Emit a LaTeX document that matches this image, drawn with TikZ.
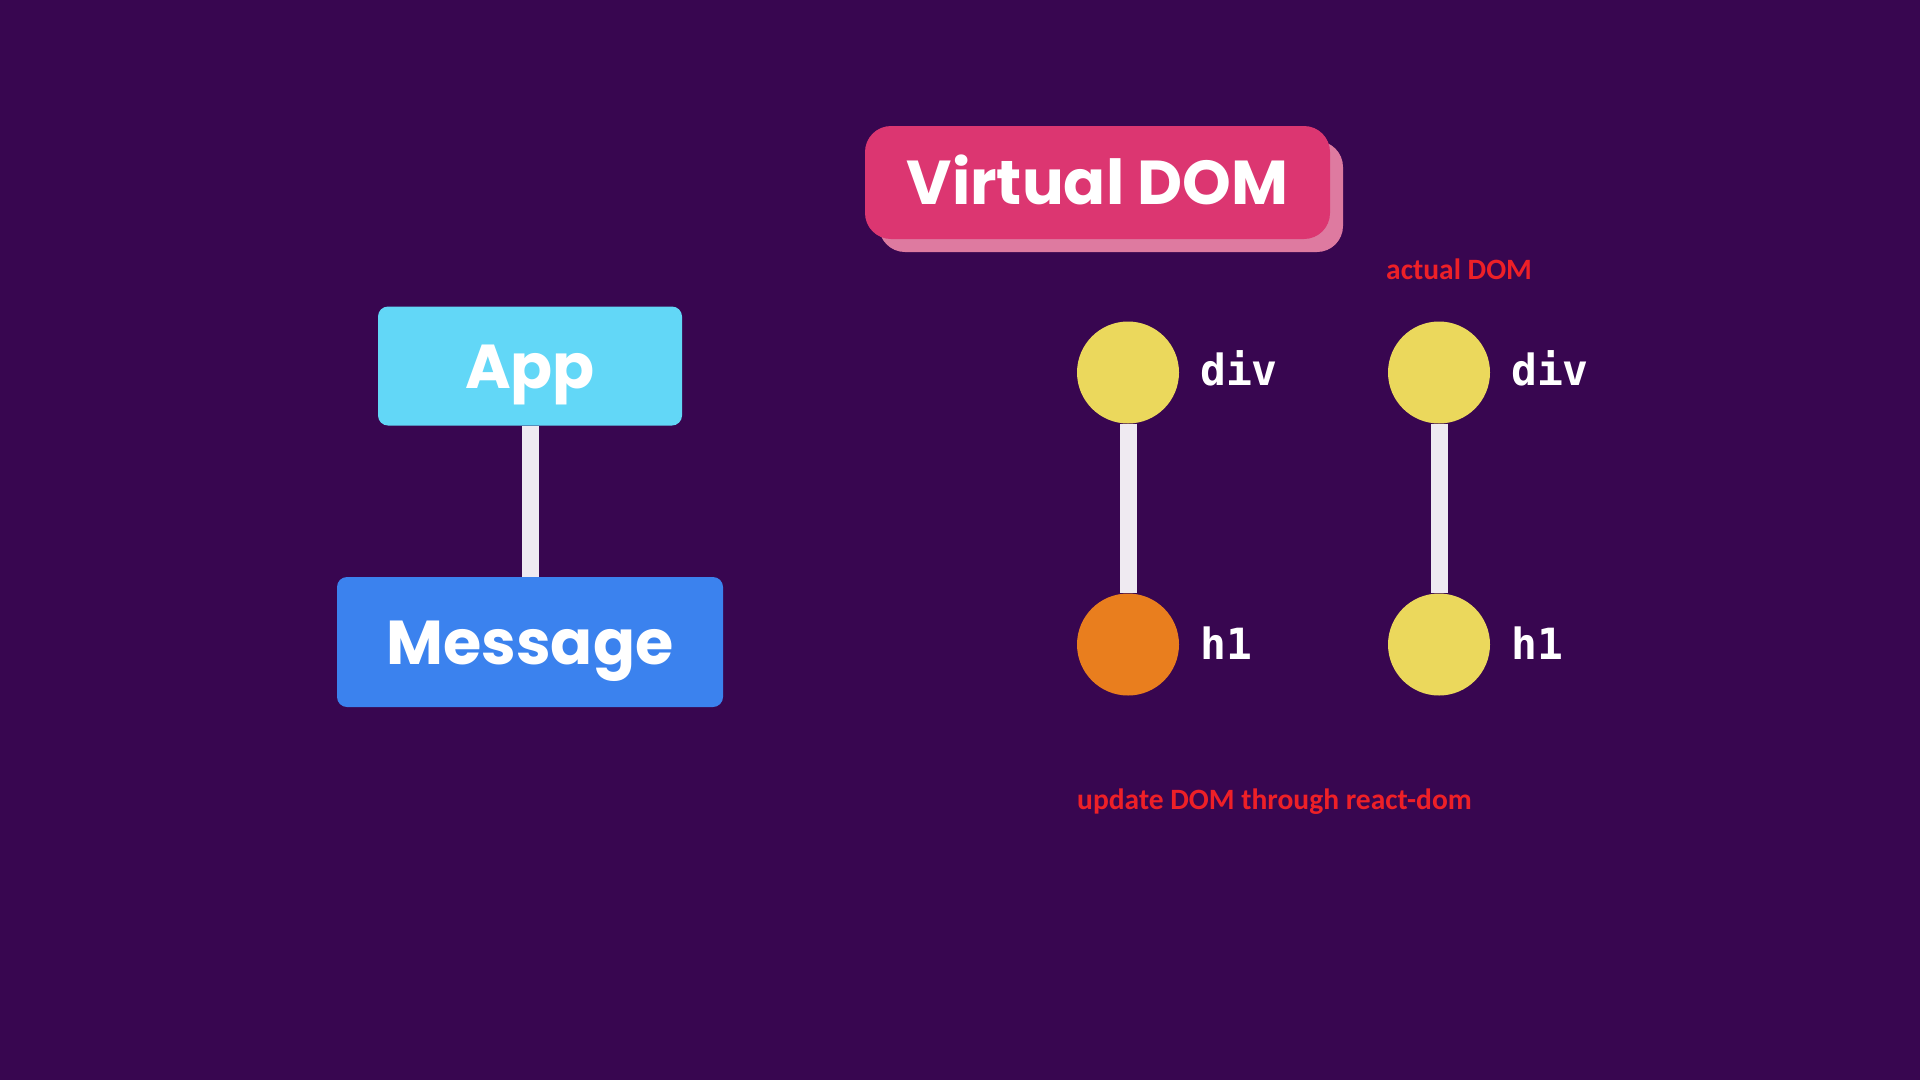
\documentclass[tikz,border=0pt]{standalone}
\usepackage{fontspec}
\newfontfamily\poppins{Poppins}
\newfontfamily\codefont{DejaVu Sans Mono}
\newfontfamily\notefont{Carlito}
\definecolor{bgpurple}{HTML}{380650}
\definecolor{vpink}{HTML}{DC3671}
\definecolor{vshadow}{HTML}{DE7AA0}
\definecolor{appcyan}{HTML}{62D7F7}
\definecolor{msgblue}{HTML}{3B82EE}
\definecolor{nodeyellow}{HTML}{EBD85C}
\definecolor{nodeorange}{HTML}{E97E1E}
\definecolor{linkwhite}{HTML}{EFEAF1}
\definecolor{notered}{HTML}{EE2027}
\begin{document}
\begin{tikzpicture}[x=1pt,y=-1pt,
  titlebox/.style={fill=vpink, rounded corners=26pt, minimum width=465pt, minimum height=113pt, inner sep=0pt,
    text=white, text height=44pt, text depth=0pt, font=\poppins\bfseries\fontsize{62}{70}\selectfont},
  shadowbox/.style={fill=vshadow, rounded corners=26pt, minimum width=464pt, minimum height=111pt, inner sep=0pt},
  compbox/.style={rounded corners=10pt, inner sep=0pt, text=white, text height=44pt, text depth=0pt,
    font=\poppins\bfseries\fontsize{62}{70}\selectfont},
  treenode/.style={circle, minimum size=102pt, inner sep=0pt},
  codelabel/.style={anchor=base west, inner sep=0pt, text=white, font=\codefont\bfseries\fontsize{43}{50}\selectfont},
  note/.style={anchor=base west, inner sep=0pt, text=notered, font=\notefont\bfseries\fontsize{29.5}{34}\selectfont},
  link/.style={draw=linkwhite, line width=17pt}
]
\fill[bgpurple] (0,0) rectangle (1920,1080);
\useasboundingbox (0,0) rectangle (1920,1080);

% title
\node[shadowbox] (vshadowbox) at (1111,196.5) {};
\node[titlebox] (vdom) at (1097.5,182.5) {Virtual DOM};

% component tree
\node[compbox, fill=appcyan, minimum width=304pt, minimum height=119pt] (app) at (530,366) {App};
\node[compbox, fill=msgblue, minimum width=386pt, minimum height=130pt] (msg) at (530,642) {Message};
\draw[link] (app.south) -- (msg.north);

% virtual DOM tree
\node[treenode, fill=nodeyellow] (vdiv) at (1128,372.5) {};
\node[treenode, fill=nodeorange] (vh) at (1128,644.5) {};
\draw[link] (vdiv.south) -- (vh.north);
\node[codelabel] (vdivlabel) at (1200,385) {div};
\node[codelabel] (vhlabel) at (1200,659) {h1};

% actual DOM tree
\node[treenode, fill=nodeyellow] (adiv) at (1439,372.5) {};
\node[treenode, fill=nodeyellow] (ah) at (1439,644.5) {};
\draw[link] (adiv.south) -- (ah.north);
\node[codelabel] (adivlabel) at (1511,385) {div};
\node[codelabel] (ahlabel) at (1511,659) {h1};

% notes
\node[note] (actualnote) at (1386,279) {actual DOM};
\node[note] (updatenote) at (1077,809) {update DOM through react-dom};
\end{tikzpicture}
\end{document}
